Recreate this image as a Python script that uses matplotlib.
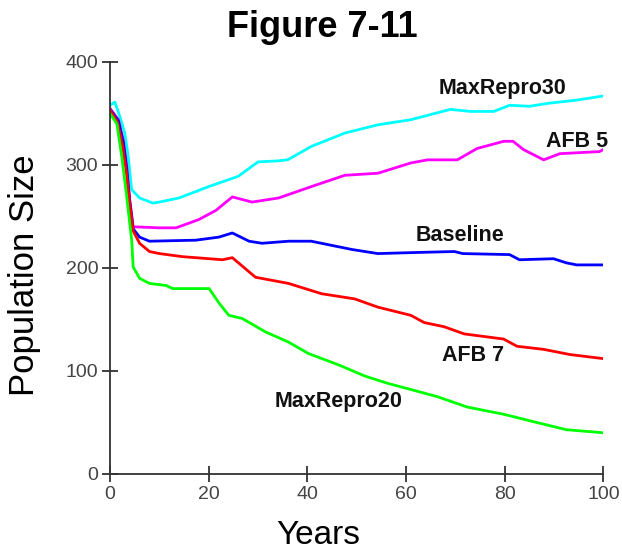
import numpy as np
import matplotlib.pyplot as plt

# --- data ---
cyan_x = [0, 1, 2, 3, 3.7, 4.4, 6, 8.7, 10, 14, 20, 26, 30, 34, 36, 40.8, 47.6,
          54.3, 61, 69, 73, 77.8, 81, 85, 89, 94.6, 100]
cyan_y = [358, 361, 347, 331, 308, 276, 268, 263, 264, 268, 279, 289, 303, 304,
          305, 318, 331, 339, 344, 354, 352, 352, 358, 357, 360, 363, 367]

magenta_x = [0, 0.3, 1.7, 2.7, 3.4, 4, 4.7, 10, 13.4, 18, 21.5, 24.8, 28.8, 34.2,
             40.8, 47.6, 54.3, 61, 64.4, 70.4, 74.4, 79.8, 81.7, 83.8, 87.9, 91.2,
             99.2, 100]
magenta_y = [355, 353, 344, 324, 298, 266, 240, 239, 239, 247, 256, 269, 264, 268,
             279, 290, 292, 302, 305, 305, 316, 323, 323, 315, 305, 311, 313, 315]

blue_x = [0, 0.3, 1.7, 2.7, 3.4, 4, 4.7, 6, 8, 17.4, 22.1, 24.8, 28.2, 30.8, 36.2,
          40.8, 49, 54.3, 61.7, 69.8, 71.5, 81, 83, 89.9, 92.5, 94.6, 100]
blue_y = [354, 352, 343, 322, 296, 265, 238, 230, 226, 227, 230, 234, 226, 224, 226,
          226, 218, 214, 215, 216, 214, 213, 208, 209, 205, 203, 203]

red_x = [0, 0.3, 1.5, 2.5, 3.3, 4, 4.7, 6, 8, 10, 14.7, 22.8, 24.8, 29.5, 36.2,
         42.9, 49.6, 54.3, 61, 63.7, 67.7, 71.8, 79.8, 82.5, 87.9, 93.2, 100]
red_y = [354, 351, 342, 320, 294, 262, 236, 224, 216, 214, 211, 208, 210, 191, 185,
         175, 170, 162, 154, 147, 143, 136, 131, 124, 121, 116, 112]

green_x = [0, 1.4, 2.4, 3.4, 4.4, 4.7, 6, 8, 11.4, 12.7, 20.1, 22.1, 24.1, 26.8,
           31.5, 36.2, 40.2, 46.3, 51.7, 56.3, 61, 66.4, 72.4, 79.8, 86.5, 92.5, 100]
green_y = [350, 340, 308, 269, 227, 201, 190, 185, 183, 180, 180, 166, 154, 151,
           138, 128, 117, 106, 95, 88, 82, 75, 65, 58, 50, 43, 40]

labels = ['MaxRepro30', 'AFB 5', 'Baseline', 'AFB 7', 'MaxRepro20']
label_x = [79.5, 94.6, 71, 73.6, 46.3]
label_y = [374, 323, 232, 115.5, 70]

plt.rcParams['font.family'] = ['Liberation Sans', 'DejaVu Sans']

fig = plt.figure(figsize=(6.22, 5.56), dpi=100)
ax = fig.add_axes([0.1768, 0.1475, 0.7932, 0.741])

series = [(cyan_x, cyan_y, '#00ffff'), (magenta_x, magenta_y, '#ff00ff'),
          (blue_x, blue_y, '#0000ff'), (red_x, red_y, '#ff0000'),
          (green_x, green_y, '#00ff00')]
for xs, ys, c in series:
    ax.plot(xs, ys, color=c, linewidth=2.0)

for txt, lx, ly in zip(labels, label_x, label_y):
    ax.text(lx, ly, txt, ha='center', va='center', fontsize=15.5, fontweight='bold',
            color='#111111')

ax.set_xlim(0, 100)
ax.set_ylim(0, 400)
ax.set_xticks([0, 20, 40, 60, 80, 100])
ax.set_yticks([0, 100, 200, 300, 400])
for s in ['top', 'right']:
    ax.spines[s].set_visible(False)
for s in ['left', 'bottom']:
    ax.spines[s].set_color('#333333')
    ax.spines[s].set_linewidth(1.3)
ax.tick_params(direction='inout', length=11, width=1.3, color='#333333',
               labelsize=14, labelcolor='#444444', pad=3)

fig.text(0.518, 0.951, 'Figure 7-11', ha='center', va='center', fontsize=26,
         fontweight='bold')
fig.text(0.040, 0.505, 'Population Size', ha='center', va='center', fontsize=25,
         rotation=90)
fig.text(0.511, 0.036, 'Years', ha='center', va='center', fontsize=24)

plt.savefig('out.png', dpi=100)
